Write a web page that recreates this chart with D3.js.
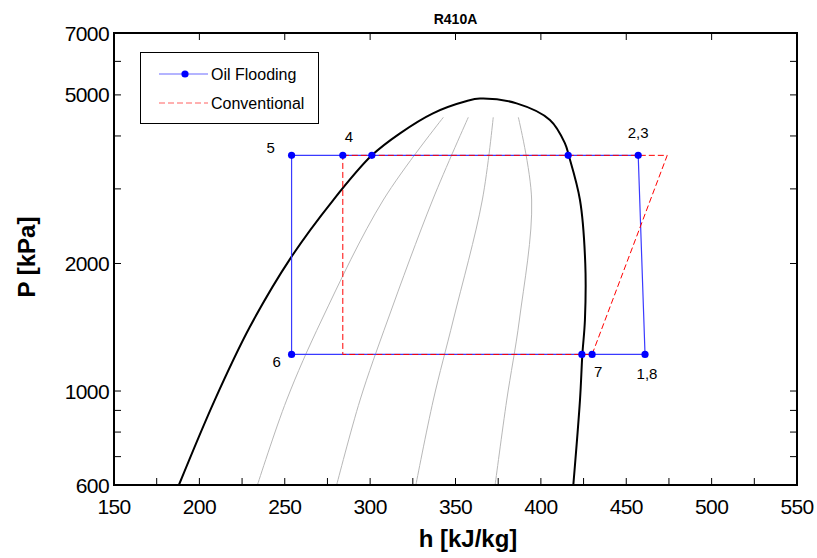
<!DOCTYPE html>
<html>
<head>
<meta charset="utf-8">
<script src="https://cdn.jsdelivr.net/npm/d3@7"></script>
<style>
  body { margin: 0; background: #fff; }
  svg { font-family: "Liberation Sans", Arial, sans-serif; }
</style>
</head>
<body>
<svg id="chart" width="817" height="558"></svg>
<script>
// saturation dome (h in kJ/kg, P in kPa)
const domeH = [188, 209, 229.6, 253.7, 278.4, 301, 317.5, 336.8, 356.6, 364.3, 385.8, 405.3, 414.1, 416.3, 422.9, 426, 425.8, 424.3, 422.9, 419];
const domeP = [600, 952, 1418, 2068, 2824, 3600, 4058, 4524, 4836, 4900, 4775, 4363, 3843, 3600, 2824, 2000, 1471, 1220, 952, 600];

// constant quality lines (x = 0.2, 0.4, 0.6, 0.8)
const qualityP = [600, 952, 1471, 2824, 4427];
const qualityH = [
  [234.0, 251.1, 271.6, 307.7, 342.9],
  [280.4, 294.1, 310.3, 336.6, 357.5],
  [326.8, 337.0, 348.7, 365.7, 372.1],
  [373.2, 380.0, 387.4, 394.6, 386.8]
];

// oil flooding cycle
const oilH = [254, 284, 301, 416, 457, 461, 430, 424, 254, 254];
const oilP = [3600, 3600, 3600, 3600, 3600, 1220, 1220, 1220, 1220, 3600];

// conventional cycle
const convH = [284, 474, 430, 284, 284];
const convP = [3600, 3600, 1220, 1220, 3600];

// state point labels
const stateNames = ["5", "4", "2,3", "6", "7", "1,8"];
const stateH = [254, 284, 457, 254, 430, 461];
const stateP = [3600, 3600, 3600, 1220, 1220, 1220];

const xTicks = [150, 200, 250, 300, 350, 400, 450, 500, 550];
const xMinor = [175, 225, 275, 325, 375, 425, 475, 525];
const yLabels = [600, 1000, 2000, 5000, 7000];
const yTicks = [700, 800, 900, 1000, 2000, 3000, 4000, 5000, 6000];

const svg = d3.select("#chart");
const pLeft = 114, pRight = 797, pTop = 33, pBottom = 485;

const x = d3.scaleLinear().domain([150, 550]).range([pLeft, pRight]);
const y = d3.scaleLog().domain([600, 7000]).range([pBottom, pTop]);

const line = d3.line()
  .x(d => x(d[0]))
  .y(d => y(d[1]));

// quality lines
qualityH.forEach(hs => {
  svg.append("path")
    .attr("fill", "none")
    .attr("stroke", "#b8b8b8")
    .attr("stroke-width", 1)
    .attr("d", line.curve(d3.curveCatmullRom)(hs.map((h, i) => [h, qualityP[i]])));
});

// dome
svg.append("path")
  .attr("fill", "none")
  .attr("stroke", "#000")
  .attr("stroke-width", 2)
  .attr("d", line.curve(d3.curveCatmullRom)(domeH.map((h, i) => [h, domeP[i]])));

// oil flooding
svg.append("path")
  .attr("fill", "none")
  .attr("stroke", "#3a3aff")
  .attr("stroke-width", 1.2)
  .attr("d", line.curve(d3.curveLinear)(oilH.map((h, i) => [h, oilP[i]])));

// conventional
svg.append("path")
  .attr("fill", "none")
  .attr("stroke", "#ff0000")
  .attr("stroke-width", 1)
  .attr("stroke-dasharray", "6,3")
  .attr("d", line.curve(d3.curveLinear)(convH.map((h, i) => [h, convP[i]])));

// markers
svg.append("g")
  .selectAll("circle")
  .data(oilH.slice(0, 9).map((h, i) => [h, oilP[i]]))
  .join("circle")
  .attr("cx", d => x(d[0]))
  .attr("cy", d => y(d[1]))
  .attr("r", 3.6)
  .attr("fill", "#0000ff");

// state labels
const labelOffset = {"5": [-21, -2], "4": [6, -13], "2,3": [0, -17], "6": [-15, 13], "7": [6, 23], "1,8": [2, 25]};
svg.append("g")
  .selectAll("text")
  .data(stateNames)
  .join("text")
  .attr("x", (d, i) => x(stateH[i]) + labelOffset[d][0])
  .attr("y", (d, i) => y(stateP[i]) + labelOffset[d][1])
  .attr("text-anchor", "middle")
  .attr("font-size", 15)
  .text(d => d);

// frame
svg.append("rect")
  .attr("x", pLeft).attr("y", pTop)
  .attr("width", pRight - pLeft).attr("height", pBottom - pTop)
  .attr("fill", "none")
  .attr("stroke", "#000")
  .attr("stroke-width", 2);

// ticks
const tk = svg.append("g").attr("stroke", "#000").attr("stroke-width", 1);
xTicks.concat(xMinor).forEach(v => {
  tk.append("line").attr("x1", x(v)).attr("x2", x(v)).attr("y1", pBottom).attr("y2", pBottom - 7);
});
xTicks.forEach(v => {
  tk.append("line").attr("x1", x(v)).attr("x2", x(v)).attr("y1", pTop).attr("y2", pTop + 7);
});
yTicks.forEach(v => {
  tk.append("line").attr("x1", pLeft).attr("x2", pLeft + 7).attr("y1", y(v)).attr("y2", y(v));
  tk.append("line").attr("x1", pRight).attr("x2", pRight - 7).attr("y1", y(v)).attr("y2", y(v));
});

// tick labels
svg.append("g")
  .selectAll("text")
  .data(xTicks)
  .join("text")
  .attr("x", d => x(d))
  .attr("y", pBottom + 29)
  .attr("text-anchor", "middle")
  .attr("font-size", 21)
  .attr("letter-spacing", -0.6)
  .text(d => d);

svg.append("g")
  .selectAll("text")
  .data(yLabels)
  .join("text")
  .attr("x", pLeft - 5)
  .attr("y", d => y(d) + 7.5)
  .attr("text-anchor", "end")
  .attr("font-size", 21)
  .attr("letter-spacing", -0.6)
  .text(d => d);

// titles
svg.append("text")
  .attr("x", (pLeft + pRight) / 2).attr("y", 24)
  .attr("text-anchor", "middle")
  .attr("font-size", 14).attr("font-weight", "bold")
  .text("R410A");

svg.append("text")
  .attr("x", 468).attr("y", 547)
  .attr("text-anchor", "middle")
  .attr("font-size", 24).attr("font-weight", "bold")
  .text("h [kJ/kg]");

svg.append("text")
  .attr("transform", "translate(35,257) rotate(-90)")
  .attr("text-anchor", "middle")
  .attr("font-size", 24).attr("font-weight", "bold")
  .text("P [kPa]");

// legend
const lg = svg.append("g");
lg.append("rect")
  .attr("x", 140.5).attr("y", 52.5)
  .attr("width", 178).attr("height", 71)
  .attr("fill", "#fff")
  .attr("stroke", "#000");
lg.append("line")
  .attr("x1", 159).attr("x2", 208).attr("y1", 74).attr("y2", 74)
  .attr("stroke", "#6b6bff").attr("stroke-width", 1.2);
lg.append("circle").attr("cx", 185).attr("cy", 74).attr("r", 3.6).attr("fill", "#0000ff");
lg.append("line")
  .attr("x1", 159).attr("x2", 208).attr("y1", 103).attr("y2", 103)
  .attr("stroke", "#ff6060").attr("stroke-dasharray", "6,3");
lg.append("text").attr("x", 211).attr("y", 79.5).attr("font-size", 16).text("Oil Flooding");
lg.append("text").attr("x", 211).attr("y", 108.5).attr("font-size", 16).text("Conventional");
</script>
</body>
</html>
